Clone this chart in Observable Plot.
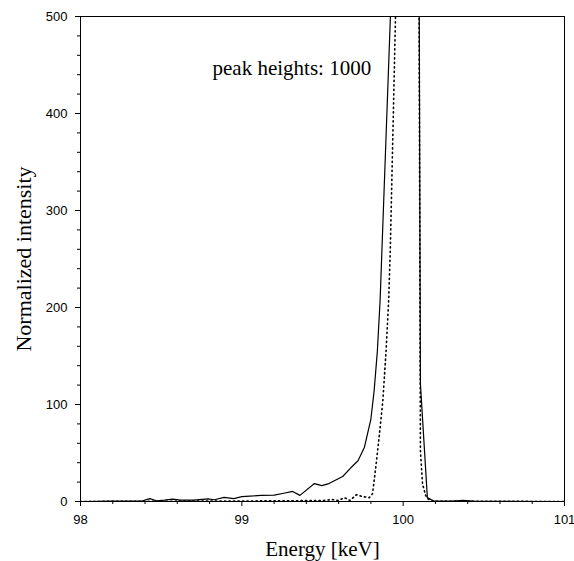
<!DOCTYPE html>
<html>
<head>
<meta charset="utf-8">
<script src="https://cdn.jsdelivr.net/npm/d3@7"></script>
<script src="https://cdn.jsdelivr.net/npm/@observablehq/plot@0.6"></script>
<style>
  html, body { margin: 0; padding: 0; background: #fff; }
</style>
</head>
<body>
<div id="chart"></div>
<script>
// Solid spectrum (Energy keV, normalized intensity)
const solidEnergy = [98.0, 98.2, 98.38, 98.43, 98.47, 98.52, 98.57, 98.62, 98.7, 98.79, 98.83, 98.89, 98.95, 99.0, 99.05, 99.12, 99.2, 99.26, 99.315, 99.36, 99.45, 99.495, 99.54, 99.625, 99.677, 99.72, 99.76, 99.80, 99.82, 99.84, 99.857, 100.03, 100.09, 100.107, 100.15, 100.19, 100.3, 100.37, 100.45, 101.0];
const solidIntensity = [0, 0.3, 0.5, 3, 0.8, 1.5, 2.5, 1.5, 1.5, 2.7, 1.8, 4.2, 3.0, 5.0, 5.5, 6.3, 6.5, 8.5, 10.4, 6.3, 18.5, 16.3, 18.5, 25.8, 35, 42, 56, 85, 114, 155, 207, 1000, 1000, 121, 4, 0.5, 0.3, 1.2, 0.2, 0];

// Dotted spectrum
const dottedEnergy = [98.0, 98.5, 99.0, 99.3, 99.5, 99.56, 99.6, 99.635, 99.67, 99.71, 99.75, 99.79, 99.81, 99.83, 99.853, 99.874, 99.894, 99.91, 99.92, 100.02, 100.09, 100.107, 100.12, 100.14, 100.155, 100.18, 101.0];
const dottedIntensity = [0, 0.3, 0.5, 0.8, 1, 2, 1, 4, 1, 7, 5, 4, 8, 35, 69.5, 104, 155, 207, 258, 1000, 1000, 52, 18, 6, 2.5, 0.3, 0];

const xMajorTicks = [98, 99, 100, 101];
const yMajorTicks = [0, 100, 200, 300, 400, 500];
const xMinorTicks = [98.2, 98.4, 98.6, 98.8, 99.2, 99.4, 99.6, 99.8, 100.2, 100.4, 100.6, 100.8];
const yMinorTicks = [20, 40, 60, 80, 120, 140, 160, 180, 220, 240, 260, 280, 320, 340, 360, 380, 420, 440, 460, 480];

const annotation = "peak heights: 1000";
const xLabel = "Energy [keV]";
const yLabel = "Normalized intensity";

const solid = solidEnergy.map((e, i) => ({energy: e, intensity: solidIntensity[i]}));
const dotted = dottedEnergy.map((e, i) => ({energy: e, intensity: dottedIntensity[i]}));

const serif = "'Liberation Serif', 'DejaVu Serif', serif";
const sans = "'Liberation Sans', Arial, sans-serif";

const chart = Plot.plot({
  width: 574,
  height: 561,
  marginLeft: 80,
  marginRight: 10,
  marginTop: 16,
  marginBottom: 60,
  style: {fontFamily: sans, fontSize: "13px", color: "#000", background: "#fff"},
  x: {domain: [98, 101]},
  y: {domain: [0, 500]},
  marks: [
    Plot.frame({stroke: "#000", strokeWidth: 1}),
    Plot.axisX({ticks: xMajorTicks, tickSize: 5, tickPadding: 8, tickFormat: d => String(d), label: null, fontSize: 13, fontFamily: sans}),
    Plot.axisX({ticks: xMinorTicks, tickSize: 3, text: null, label: null}),
    Plot.axisY({ticks: yMajorTicks, tickSize: 5, tickPadding: 8, tickFormat: d => String(d), label: null, fontSize: 13, fontFamily: sans}),
    Plot.axisY({ticks: yMinorTicks, tickSize: 3, text: null, label: null}),
    Plot.line(dotted, {x: "energy", y: "intensity", stroke: "#000", strokeWidth: 1.6, strokeDasharray: "1.2,3.3", clip: true}),
    Plot.line(solid, {x: "energy", y: "intensity", stroke: "#000", strokeWidth: 1.2, clip: true}),
    Plot.text([annotation], {x: 99.31, y: 447, text: d => d, fontSize: 21, fontFamily: serif, fill: "#000"}),
    Plot.text([xLabel], {frameAnchor: "bottom", dy: 54, text: d => d, fontSize: 21, fontFamily: serif, fill: "#000"}),
    Plot.text([yLabel], {frameAnchor: "left", textAnchor: "middle", dx: -57, rotate: -90, text: d => d, fontSize: 22, fontFamily: serif, fill: "#000"})
  ]
});
document.getElementById("chart").append(chart);
</script>
</body>
</html>
